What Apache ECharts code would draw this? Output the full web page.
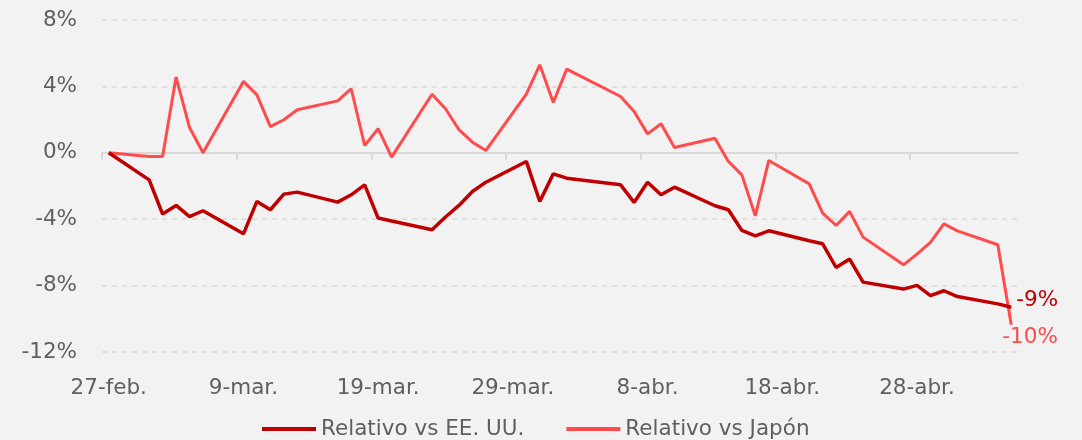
<!DOCTYPE html>
<html>
<head>
<meta charset="utf-8">
<script src="https://cdn.jsdelivr.net/npm/echarts@6/dist/echarts.min.js"></script>
<style>
  html, body { margin: 0; padding: 0; background: #f2f2f2; }
  #chart { width: 1082px; height: 440px; }
</style>
</head>
<body>
<div id="chart"></div>
<script>
// Trading dates (2026), first date is the reference day 27-feb.
const tradingDates = [
  '2026-02-27',
  '2026-03-02','2026-03-03','2026-03-04','2026-03-05','2026-03-06',
  '2026-03-09','2026-03-10','2026-03-11','2026-03-12','2026-03-13',
  '2026-03-16','2026-03-17','2026-03-18','2026-03-19','2026-03-20',
  '2026-03-23','2026-03-24','2026-03-25','2026-03-26','2026-03-27',
  '2026-03-30','2026-03-31','2026-04-01','2026-04-02',
  '2026-04-06','2026-04-07','2026-04-08','2026-04-09','2026-04-10',
  '2026-04-13','2026-04-14','2026-04-15','2026-04-16','2026-04-17',
  '2026-04-20','2026-04-21','2026-04-22','2026-04-23','2026-04-24',
  '2026-04-27','2026-04-28','2026-04-29','2026-04-30','2026-05-01',
  '2026-05-04','2026-05-05'
];

// Relative performance vs United States (%)
const relUS = [
  0,
  -1.63, -3.69, -3.17, -3.84, -3.49,
  -4.88, -2.93, -3.43, -2.49, -2.37,
  -2.97, -2.53, -1.93, -3.93, -4.11,
  -4.64, -3.87, -3.17, -2.33, -1.77,
  -0.52, -2.93, -1.27, -1.53,
  -1.93, -2.99, -1.77, -2.53, -2.07,
  -3.19, -3.43, -4.68, -5.00, -4.70,
  -5.30, -5.48, -6.91, -6.40, -7.79,
  -8.21, -7.99, -8.60, -8.31, -8.66,
  -9.10, -9.30
];

// Relative performance vs Japan (%)
const relJP = [
  0,
  -0.22, -0.22, 4.56, 1.52, 0.00,
  4.30, 3.49, 1.58, 1.99, 2.59,
  3.13, 3.86, 0.44, 1.45, -0.26,
  3.53, 2.65, 1.39, 0.64, 0.14,
  3.53, 5.30, 3.03, 5.04,
  3.39, 2.49, 1.14, 1.75, 0.32,
  0.88, -0.52, -1.33, -3.80, -0.46,
  -1.87, -3.63, -4.38, -3.53, -5.08,
  -6.75, -6.10, -5.40, -4.28, -4.70,
  -5.54, -10.36
];

const seriesNames = ['Relativo vs EE. UU.', 'Relativo vs Japón'];
const endLabels = ['-9%', '-10%'];
const xTickLabels = ['27-feb.', '9-mar.', '19-mar.', '29-mar.', '8-abr.', '18-abr.', '28-abr.'];
const yTicks = [-12, -8, -4, 0, 4, 8];

const DAY = 86400000;
const t0 = Date.parse(tradingDates[0] + 'T00:00:00Z');
const dayIndex = tradingDates.map(d => Math.round((Date.parse(d + 'T00:00:00Z') - t0) / DAY));
const lastDay = dayIndex[dayIndex.length - 1];
const labelValues = xTickLabels.map((_, i) => i * 10);
const tickValues = xTickLabels.map((_, i) => i * 10 - 0.5);

const FONT = 'DejaVu Sans';
const TXT = '#5f5f5f';
const C_US = '#c00000';
const C_JP = '#ff4b4b';

const pairs = values => values.map((v, i) => [dayIndex[i], v]);

const chart = echarts.init(document.getElementById('chart'), null, { renderer: 'canvas' });
chart.setOption({
  backgroundColor: '#f2f2f2',
  animation: false,
  textStyle: { fontFamily: FONT },
  grid: { left: 102, right: 64, top: 20, bottom: 88, containLabel: false },
  legend: {
    data: seriesNames,
    left: 262,
    top: 418,
    padding: 0,
    icon: 'rect',
    itemWidth: 54,
    itemHeight: 4,
    itemGap: 42,
    textStyle: { fontFamily: FONT, fontSize: 21.5, color: TXT }
  },
  xAxis: [
    {
      type: 'value',
      min: -0.5,
      max: lastDay + 0.5,
      position: 'bottom',
      axisLine: { show: true, onZero: true, lineStyle: { color: '#d9d9d9', width: 2 } },
      axisTick: { show: true, length: 7, customValues: tickValues, lineStyle: { color: '#d9d9d9', width: 2 } },
      axisLabel: { show: false },
      splitLine: { show: false }
    },
    {
      type: 'value',
      min: -0.5,
      max: lastDay + 0.5,
      position: 'bottom',
      axisLine: { show: false, onZero: false },
      axisTick: { show: false },
      splitLine: { show: false },
      axisLabel: {
        show: true,
        customValues: labelValues,
        margin: 25,
        fontFamily: FONT,
        fontSize: 21.5,
        color: TXT,
        formatter: v => xTickLabels[Math.round(v / 10)] || ''
      }
    }
  ],
  yAxis: {
    type: 'value',
    min: yTicks[0],
    max: yTicks[yTicks.length - 1],
    interval: 4,
    axisLine: { show: false },
    axisTick: { show: false },
    axisLabel: { margin: 25, fontFamily: FONT, fontSize: 21.5, color: TXT, formatter: '{value}%' },
    splitLine: { show: true, lineStyle: { color: '#d9d9d9', width: 1.5, type: [5, 5] } }
  },
  series: [
    {
      name: seriesNames[0],
      type: 'line',
      xAxisIndex: 0,
      showSymbol: false,
      symbol: 'none',
      color: C_US,
      lineStyle: { color: C_US, width: 3.5 },
      z: 3,
      data: pairs(relUS),
      endLabel: {
        show: true, distance: 5, offset: [0, -7],
        formatter: endLabels[0], color: C_US, fontFamily: FONT, fontSize: 21.5
      }
    },
    {
      name: seriesNames[1],
      type: 'line',
      xAxisIndex: 0,
      showSymbol: false,
      symbol: 'none',
      color: C_JP,
      lineStyle: { color: C_JP, width: 3 },
      z: 2,
      data: pairs(relJP),
      endLabel: {
        show: true, distance: 5, offset: [-14, 13],
        formatter: endLabels[1], color: C_JP, fontFamily: FONT, fontSize: 21.5
      }
    }
  ]
});
</script>
</body>
</html>
